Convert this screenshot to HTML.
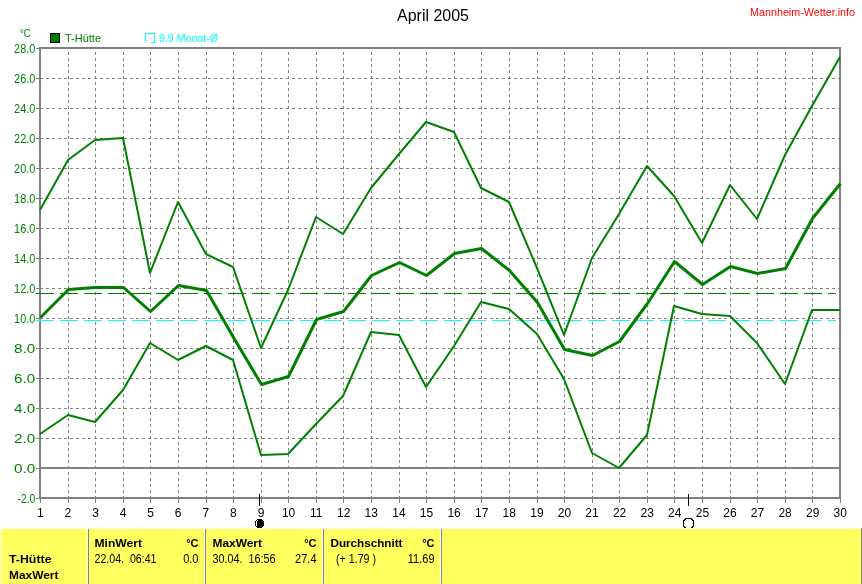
<!DOCTYPE html>
<html><head><meta charset="utf-8"><style>
html,body{margin:0;padding:0;background:#fff;width:862px;height:584px;overflow:hidden}
svg{position:absolute;left:0;top:0;will-change:transform}
text{font-family:"Liberation Sans",sans-serif;white-space:pre}
</style></head><body>
<svg width="862" height="584" viewBox="0 0 862 584">
<g stroke="#808080" stroke-width="1" stroke-dasharray="3 3" shape-rendering="crispEdges">
<line x1="40" y1="78.5" x2="839" y2="78.5"/><line x1="40" y1="108.5" x2="839" y2="108.5"/><line x1="40" y1="138.5" x2="839" y2="138.5"/><line x1="40" y1="168.5" x2="839" y2="168.5"/><line x1="40" y1="198.5" x2="839" y2="198.5"/><line x1="40" y1="228.5" x2="839" y2="228.5"/><line x1="40" y1="258.5" x2="839" y2="258.5"/><line x1="40" y1="288.5" x2="839" y2="288.5"/><line x1="40" y1="318.5" x2="839" y2="318.5"/><line x1="40" y1="348.5" x2="839" y2="348.5"/><line x1="40" y1="378.5" x2="839" y2="378.5"/><line x1="40" y1="408.5" x2="839" y2="408.5"/><line x1="40" y1="438.5" x2="839" y2="438.5"/><line x1="68.5" y1="52" x2="68.5" y2="497"/><line x1="95.5" y1="52" x2="95.5" y2="497"/><line x1="123.5" y1="52" x2="123.5" y2="497"/><line x1="150.5" y1="52" x2="150.5" y2="497"/><line x1="178.5" y1="52" x2="178.5" y2="497"/><line x1="206.5" y1="52" x2="206.5" y2="497"/><line x1="233.5" y1="52" x2="233.5" y2="497"/><line x1="261.5" y1="52" x2="261.5" y2="497"/><line x1="288.5" y1="52" x2="288.5" y2="497"/><line x1="316.5" y1="52" x2="316.5" y2="497"/><line x1="343.5" y1="52" x2="343.5" y2="497"/><line x1="371.5" y1="52" x2="371.5" y2="497"/><line x1="399.5" y1="52" x2="399.5" y2="497"/><line x1="426.5" y1="52" x2="426.5" y2="497"/><line x1="454.5" y1="52" x2="454.5" y2="497"/><line x1="481.5" y1="52" x2="481.5" y2="497"/><line x1="509.5" y1="52" x2="509.5" y2="497"/><line x1="537.5" y1="52" x2="537.5" y2="497"/><line x1="564.5" y1="52" x2="564.5" y2="497"/><line x1="592.5" y1="52" x2="592.5" y2="497"/><line x1="619.5" y1="52" x2="619.5" y2="497"/><line x1="647.5" y1="52" x2="647.5" y2="497"/><line x1="674.5" y1="52" x2="674.5" y2="497"/><line x1="702.5" y1="52" x2="702.5" y2="497"/><line x1="730.5" y1="52" x2="730.5" y2="497"/><line x1="757.5" y1="52" x2="757.5" y2="497"/><line x1="785.5" y1="52" x2="785.5" y2="497"/><line x1="812.5" y1="52" x2="812.5" y2="497"/>
</g>
<g stroke="#808080" stroke-width="1" shape-rendering="crispEdges">
<line x1="36" y1="48.5" x2="39" y2="48.5"/><line x1="36" y1="78.5" x2="39" y2="78.5"/><line x1="36" y1="108.5" x2="39" y2="108.5"/><line x1="36" y1="138.5" x2="39" y2="138.5"/><line x1="36" y1="168.5" x2="39" y2="168.5"/><line x1="36" y1="198.5" x2="39" y2="198.5"/><line x1="36" y1="228.5" x2="39" y2="228.5"/><line x1="36" y1="258.5" x2="39" y2="258.5"/><line x1="36" y1="288.5" x2="39" y2="288.5"/><line x1="36" y1="318.5" x2="39" y2="318.5"/><line x1="36" y1="348.5" x2="39" y2="348.5"/><line x1="36" y1="378.5" x2="39" y2="378.5"/><line x1="36" y1="408.5" x2="39" y2="408.5"/><line x1="36" y1="438.5" x2="39" y2="438.5"/><line x1="36" y1="468.5" x2="39" y2="468.5"/><line x1="36" y1="498.5" x2="39" y2="498.5"/><line x1="40.5" y1="499" x2="40.5" y2="503"/><line x1="68.5" y1="499" x2="68.5" y2="503"/><line x1="95.5" y1="499" x2="95.5" y2="503"/><line x1="123.5" y1="499" x2="123.5" y2="503"/><line x1="150.5" y1="499" x2="150.5" y2="503"/><line x1="178.5" y1="499" x2="178.5" y2="503"/><line x1="206.5" y1="499" x2="206.5" y2="503"/><line x1="233.5" y1="499" x2="233.5" y2="503"/><line x1="261.5" y1="499" x2="261.5" y2="503"/><line x1="288.5" y1="499" x2="288.5" y2="503"/><line x1="316.5" y1="499" x2="316.5" y2="503"/><line x1="343.5" y1="499" x2="343.5" y2="503"/><line x1="371.5" y1="499" x2="371.5" y2="503"/><line x1="399.5" y1="499" x2="399.5" y2="503"/><line x1="426.5" y1="499" x2="426.5" y2="503"/><line x1="454.5" y1="499" x2="454.5" y2="503"/><line x1="481.5" y1="499" x2="481.5" y2="503"/><line x1="509.5" y1="499" x2="509.5" y2="503"/><line x1="537.5" y1="499" x2="537.5" y2="503"/><line x1="564.5" y1="499" x2="564.5" y2="503"/><line x1="592.5" y1="499" x2="592.5" y2="503"/><line x1="619.5" y1="499" x2="619.5" y2="503"/><line x1="647.5" y1="499" x2="647.5" y2="503"/><line x1="674.5" y1="499" x2="674.5" y2="503"/><line x1="702.5" y1="499" x2="702.5" y2="503"/><line x1="730.5" y1="499" x2="730.5" y2="503"/><line x1="757.5" y1="499" x2="757.5" y2="503"/><line x1="785.5" y1="499" x2="785.5" y2="503"/><line x1="812.5" y1="499" x2="812.5" y2="503"/><line x1="840.5" y1="499" x2="840.5" y2="503"/>
</g>
<g fill="none" stroke="#808080" stroke-width="2" shape-rendering="crispEdges">
<rect x="40" y="48" width="800" height="450"/>
<line x1="40" y1="468" x2="840" y2="468"/>
</g>
<line x1="36" y1="293.5" x2="836" y2="293.5" stroke="#008000" stroke-width="1" stroke-dasharray="18 6" shape-rendering="crispEdges"/>
<line x1="36" y1="320.5" x2="836" y2="320.5" stroke="#00ffff" stroke-width="1" stroke-dasharray="18 6" shape-rendering="crispEdges"/>
<g fill="none" stroke="#008000" stroke-linejoin="round">
<polyline stroke-width="2" points="40.0,210.0 68.0,160.0 95.0,140.0 123.0,138.0 150.0,273.0 178.0,202.0 206.0,254.0 233.0,267.0 261.0,348.0 288.0,290.0 316.0,217.0 343.0,234.0 371.0,188.0 399.0,154.0 426.0,122.0 454.0,132.0 481.0,188.0 509.0,202.0 537.0,268.0 564.0,335.0 592.0,258.0 619.0,214.0 647.0,166.0 674.0,196.0 702.0,243.0 730.0,185.0 757.0,219.0 785.0,155.0 812.0,106.0 840.0,57.0"/>
<polyline stroke-width="3" points="40.5,317.5 68.5,289.5 95.5,287.5 123.5,287.5 150.5,311.5 178.5,285.5 206.5,290.5 233.5,337.5 261.5,384.5 288.5,376.5 316.5,319.5 343.5,311.5 371.5,275.5 399.5,262.5 426.5,275.5 454.5,253.5 481.5,248.5 509.5,270.5 537.5,302.5 564.5,349.5 592.5,355.5 619.5,341.5 647.5,303.5 674.5,261.5 702.5,284.5 730.5,266.5 757.5,273.5 785.5,268.5 812.5,218.5 840.5,183.5"/>
<polyline stroke-width="2" points="40.0,434.0 68.0,415.0 95.0,422.0 123.0,390.0 150.0,343.0 178.0,360.0 206.0,346.0 233.0,360.0 261.0,455.0 288.0,454.0 316.0,424.0 343.0,396.0 371.0,332.0 399.0,335.0 426.0,387.0 454.0,346.0 481.0,302.0 509.0,309.0 537.0,334.0 564.0,379.0 592.0,453.0 619.0,468.0 647.0,435.0 674.0,306.0 702.0,314.0 730.0,316.0 757.0,343.0 785.0,384.0 812.0,310.0 840.0,310.0"/>
</g>
<g fill="#008000" font-size="12" text-anchor="end">
<text x="35.3" y="53.2" textLength="21.2" lengthAdjust="spacingAndGlyphs">28.0</text><text x="35.3" y="83.2" textLength="21.2" lengthAdjust="spacingAndGlyphs">26.0</text><text x="35.3" y="113.2" textLength="21.2" lengthAdjust="spacingAndGlyphs">24.0</text><text x="35.3" y="143.2" textLength="21.2" lengthAdjust="spacingAndGlyphs">22.0</text><text x="35.3" y="173.2" textLength="21.2" lengthAdjust="spacingAndGlyphs">20.0</text><text x="35.3" y="203.2" textLength="21.2" lengthAdjust="spacingAndGlyphs">18.0</text><text x="35.3" y="233.2" textLength="21.2" lengthAdjust="spacingAndGlyphs">16.0</text><text x="35.3" y="263.2" textLength="21.2" lengthAdjust="spacingAndGlyphs">14.0</text><text x="35.3" y="293.2" textLength="21.2" lengthAdjust="spacingAndGlyphs">12.0</text><text x="35.3" y="323.2" textLength="21.2" lengthAdjust="spacingAndGlyphs">10.0</text><text x="35.3" y="353.2" textLength="21.2" lengthAdjust="spacingAndGlyphs">8.0</text><text x="35.3" y="383.2" textLength="21.2" lengthAdjust="spacingAndGlyphs">6.0</text><text x="35.3" y="413.2" textLength="21.2" lengthAdjust="spacingAndGlyphs">4.0</text><text x="35.3" y="443.2" textLength="21.2" lengthAdjust="spacingAndGlyphs">2.0</text><text x="35.3" y="473.2" textLength="21.2" lengthAdjust="spacingAndGlyphs">0.0</text><text x="35.3" y="503.2" textLength="17.8" lengthAdjust="spacingAndGlyphs">-2.0</text>
</g>
<g fill="#000" font-size="12" text-anchor="middle">
<text x="40.3" y="517.2">1</text><text x="67.9" y="517.2">2</text><text x="95.5" y="517.2">3</text><text x="123.1" y="517.2">4</text><text x="150.6" y="517.2">5</text><text x="178.2" y="517.2">6</text><text x="205.8" y="517.2">7</text><text x="233.4" y="517.2">8</text><text x="261.0" y="517.2">9</text><text x="288.6" y="517.2">10</text><text x="316.2" y="517.2">11</text><text x="343.7" y="517.2">12</text><text x="371.3" y="517.2">13</text><text x="398.9" y="517.2">14</text><text x="426.5" y="517.2">15</text><text x="454.1" y="517.2">16</text><text x="481.7" y="517.2">17</text><text x="509.3" y="517.2">18</text><text x="536.9" y="517.2">19</text><text x="564.4" y="517.2">20</text><text x="592.0" y="517.2">21</text><text x="619.6" y="517.2">22</text><text x="647.2" y="517.2">23</text><text x="674.8" y="517.2">24</text><text x="702.4" y="517.2">25</text><text x="730.0" y="517.2">26</text><text x="757.5" y="517.2">27</text><text x="785.1" y="517.2">28</text><text x="812.7" y="517.2">29</text><text x="840.3" y="517.2">30</text>
</g>
<text x="397" y="20.5" font-size="16" fill="#000" textLength="72" lengthAdjust="spacingAndGlyphs">April 2005</text>
<text x="750" y="15.5" font-size="11" fill="#ff0000" textLength="105" lengthAdjust="spacingAndGlyphs">Mannheim-Wetter.info</text>
<text x="20" y="37" font-size="11" fill="#008000" textLength="10.5" lengthAdjust="spacingAndGlyphs">°C</text>
<rect x="50.5" y="33.5" width="9" height="9" fill="#008000" stroke="#000" stroke-width="1" shape-rendering="crispEdges"/>
<text x="65" y="41.5" font-size="11" fill="#008000" textLength="36" lengthAdjust="spacingAndGlyphs">T-Hütte</text>
<path d="M145,33.5 H155 M145.5,33 V42 M154.5,33 V43 M151,42.5 H155" fill="none" stroke="#00ffff" stroke-width="1" shape-rendering="crispEdges"/>
<text x="159" y="41.7" font-size="11" fill="#00ffff" textLength="59" lengthAdjust="spacingAndGlyphs">9.9 Monat-Ø</text>
<line x1="259.5" y1="494" x2="259.5" y2="506" stroke="#000" stroke-width="1" shape-rendering="crispEdges"/>
<g fill="#000" shape-rendering="crispEdges"><rect x="257" y="519" width="5" height="1"/><rect x="256" y="520" width="7" height="1"/><rect x="255" y="521" width="9" height="5"/><rect x="256" y="526" width="7" height="1"/><rect x="257" y="527" width="5" height="1"/></g><g fill="#fff" shape-rendering="crispEdges"><rect x="257" y="520" width="1" height="1"/><rect x="256" y="521" width="1" height="5"/></g>
<line x1="688.5" y1="494" x2="688.5" y2="506" stroke="#000" stroke-width="1" shape-rendering="crispEdges"/>
<g fill="#000" shape-rendering="crispEdges"><rect x="685" y="518" width="7" height="1"/><rect x="684" y="519" width="2" height="1"/><rect x="691" y="519" width="2" height="1"/><rect x="683" y="520" width="2" height="1"/><rect x="692" y="520" width="2" height="1"/><rect x="683" y="521" width="1" height="5"/><rect x="693" y="521" width="1" height="5"/><rect x="683" y="526" width="2" height="1"/><rect x="692" y="526" width="2" height="1"/><rect x="684" y="527" width="2" height="1"/><rect x="691" y="527" width="2" height="1"/></g>
<rect x="1" y="529" width="860" height="55" fill="#ffff60"/>
<g shape-rendering="crispEdges">
<rect x="1" y="529" width="860" height="1" fill="#ffff50"/>
<rect x="1" y="529" width="1" height="55" fill="#ffff50"/>
<rect x="86" y="529" width="1" height="55" fill="#ffff50"/>
<rect x="203" y="529" width="1" height="55" fill="#ffff50"/>
<rect x="321" y="529" width="1" height="55" fill="#ffff50"/>
<rect x="439" y="529" width="1" height="55" fill="#ffff50"/>
<rect x="87" y="529" width="1" height="55" fill="#fff"/>
<rect x="204" y="529" width="1" height="55" fill="#fff"/>
<rect x="322" y="529" width="1" height="55" fill="#fff"/>
<rect x="440" y="529" width="1" height="55" fill="#fff"/>
<rect x="88" y="529" width="1" height="55" fill="#808088"/>
<rect x="205" y="529" width="1" height="55" fill="#808088"/>
<rect x="323" y="529" width="1" height="55" fill="#808088"/>
<rect x="441" y="529" width="1" height="55" fill="#808088"/>
<rect x="861" y="528" width="1" height="56" fill="#808088"/>
</g>
<g font-size="11" fill="#000">
<text x="9" y="563" font-weight="bold" textLength="42.5" lengthAdjust="spacingAndGlyphs">T-Hütte</text>
<text x="9" y="579" font-weight="bold" textLength="49.5" lengthAdjust="spacingAndGlyphs">MaxWert</text>
<text x="94.5" y="547" font-weight="bold" textLength="47.5" lengthAdjust="spacingAndGlyphs">MinWert</text>
<text x="198.5" y="547" font-weight="bold" text-anchor="end">°C</text>
<text x="94.5" y="563" font-size="12" textLength="62" lengthAdjust="spacingAndGlyphs">22.04.  06:41</text>
<text x="198.5" y="563" font-size="12" text-anchor="end" textLength="15.3" lengthAdjust="spacingAndGlyphs">0.0</text>
<text x="212.5" y="547" font-weight="bold" textLength="49.5" lengthAdjust="spacingAndGlyphs">MaxWert</text>
<text x="316.5" y="547" font-weight="bold" text-anchor="end">°C</text>
<text x="212.5" y="563" font-size="12" textLength="63" lengthAdjust="spacingAndGlyphs">30.04.  16:56</text>
<text x="316.5" y="563" font-size="12" text-anchor="end" textLength="21.4" lengthAdjust="spacingAndGlyphs">27.4</text>
<text x="330.5" y="547" font-weight="bold" textLength="72" lengthAdjust="spacingAndGlyphs">Durchschnitt</text>
<text x="434.5" y="547" font-weight="bold" text-anchor="end">°C</text>
<text x="336" y="563" font-size="12" textLength="40" lengthAdjust="spacingAndGlyphs">(+ 1.79 )</text>
<text x="434.5" y="563" font-size="12" text-anchor="end" textLength="26.7" lengthAdjust="spacingAndGlyphs">11.69</text>
</g>
</svg>
</body></html>
